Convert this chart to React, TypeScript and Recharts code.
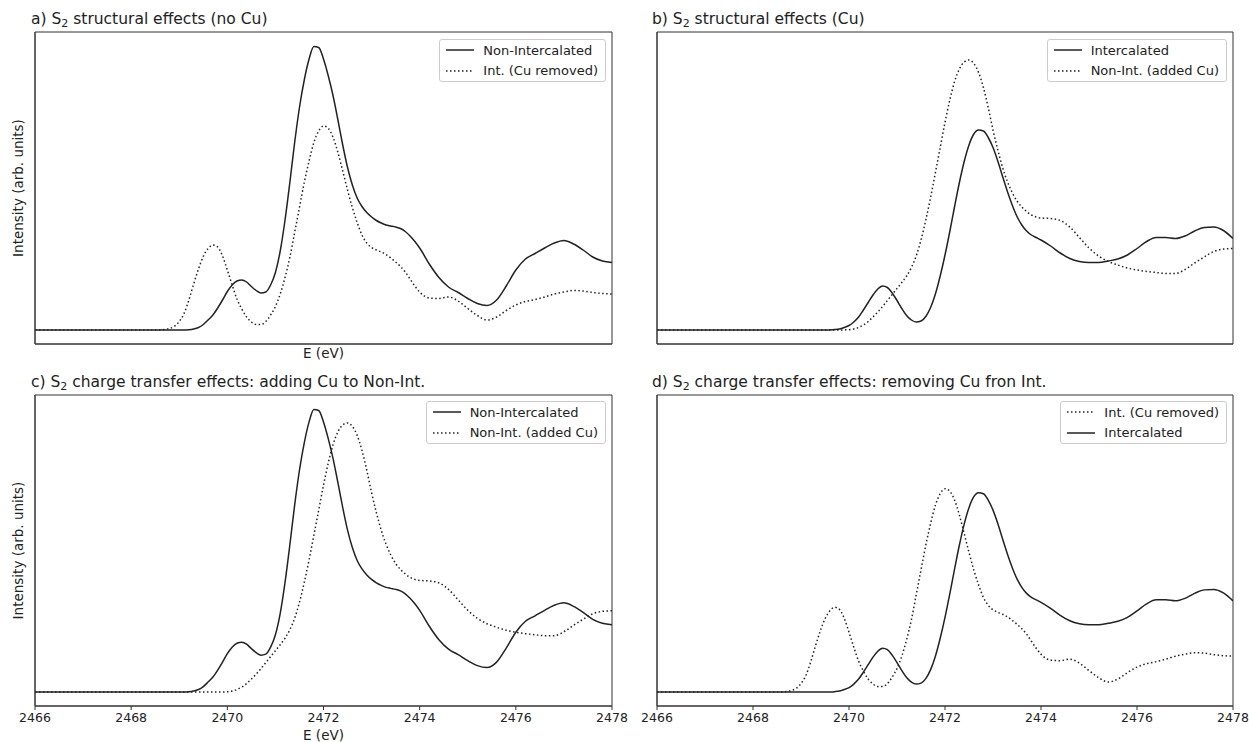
import React from 'react';
import { LineChart, Line, XAxis, YAxis, Legend, ReferenceArea } from 'recharts';

// Photon energy grid (eV); finer steps across the edge region
const energy = [
  2466, 2467, 2468, 2468.4, 2468.6, 2468.8, 2469.0,
  2469.1, 2469.2, 2469.3, 2469.4, 2469.5, 2469.6, 2469.7, 2469.8, 2469.9, 2470.0,
  2470.1, 2470.2, 2470.3, 2470.4, 2470.5, 2470.6, 2470.7, 2470.8, 2470.9, 2471.0,
  2471.1, 2471.2, 2471.3, 2471.4, 2471.5, 2471.6, 2471.7, 2471.8, 2471.9, 2472.0,
  2472.1, 2472.2, 2472.3, 2472.4, 2472.5, 2472.6, 2472.7, 2472.8, 2472.9, 2473.0,
  2473.1, 2473.2, 2473.3, 2473.4, 2473.5, 2473.6, 2473.7, 2473.8, 2473.9, 2474.0,
  2474.2, 2474.4, 2474.6, 2474.8, 2475.0, 2475.2, 2475.4, 2475.6, 2475.8, 2476.0,
  2476.2, 2476.4, 2476.6, 2476.8, 2477.0, 2477.2, 2477.4, 2477.6, 2477.8, 2478.0,
];

// Non-Intercalated S2 spectrum
const nonIntercalated = [
  0, 0, 0, 0, 0, 0, 0,
  0, 0.005, 0.02, 0.05, 0.11, 0.2, 0.3, 0.44, 0.6, 0.77,
  0.9, 0.98, 1.0, 0.96, 0.87, 0.79, 0.74, 0.76, 0.9, 1.15,
  1.58, 2.2, 2.95, 3.75, 4.45, 5.0, 5.42, 5.67, 5.65, 5.42,
  5.08, 4.68, 4.2, 3.7, 3.25, 2.9, 2.64, 2.47, 2.35, 2.26,
  2.19, 2.14, 2.1, 2.08, 2.06, 2.03, 1.97, 1.88, 1.77, 1.64,
  1.32, 1.05, 0.86, 0.75, 0.63, 0.53, 0.49, 0.6, 0.88, 1.2,
  1.42, 1.53, 1.64, 1.74, 1.79, 1.72, 1.6, 1.46, 1.38, 1.35,
];

// Intercalated with Cu removed
const intCuRemoved = [
  0, 0, 0, 0, 0.003, 0.03, 0.17,
  0.33, 0.6, 0.92, 1.22, 1.47, 1.63, 1.7, 1.66, 1.48, 1.2,
  0.9, 0.62, 0.42, 0.26, 0.16, 0.11, 0.11, 0.17, 0.3, 0.47,
  0.72, 1.05, 1.45, 1.95, 2.45, 2.95, 3.38, 3.75, 3.98, 4.08,
  4.03, 3.85, 3.55, 3.18, 2.8, 2.45, 2.15, 1.9, 1.74, 1.65,
  1.6, 1.56, 1.51, 1.44, 1.36, 1.27, 1.16, 1.02, 0.88, 0.76,
  0.64, 0.63, 0.66, 0.58, 0.43, 0.29, 0.2, 0.26, 0.39, 0.5,
  0.57, 0.61, 0.66, 0.72, 0.76, 0.79, 0.78, 0.75, 0.73, 0.72,
];

// Intercalated S2 spectrum
const intercalated = [
  0, 0, 0, 0, 0, 0, 0,
  0, 0, 0, 0, 0, 0.002, 0.008, 0.02, 0.05, 0.09,
  0.16, 0.26, 0.4, 0.55, 0.7, 0.82, 0.88, 0.85, 0.74, 0.59,
  0.43, 0.29, 0.2, 0.16, 0.18, 0.27, 0.45, 0.72, 1.08, 1.5,
  1.97, 2.47, 2.95, 3.37, 3.7, 3.92, 4.0, 3.98, 3.85, 3.65,
  3.38, 3.07, 2.77, 2.5, 2.27, 2.1, 1.98, 1.9, 1.85, 1.8,
  1.68, 1.54, 1.43, 1.37, 1.35, 1.35, 1.38, 1.42, 1.5, 1.63,
  1.77, 1.85, 1.85, 1.83, 1.88, 1.98, 2.05, 2.06, 1.99, 1.83,
];

// Non-Intercalated with Cu added
const nonIntAddedCu = [
  0, 0, 0, 0, 0, 0, 0,
  0, 0, 0, 0, 0, 0, 0, 0, 0.002, 0.006,
  0.02, 0.05, 0.1, 0.17, 0.26, 0.36, 0.47, 0.59, 0.71, 0.83,
  0.95, 1.08, 1.25, 1.48, 1.8, 2.2, 2.65, 3.15, 3.65, 4.15,
  4.6, 4.97, 5.22, 5.36, 5.4, 5.33, 5.15, 4.85, 4.45, 4.0,
  3.6, 3.25, 2.97, 2.75, 2.58, 2.46, 2.37, 2.3, 2.26, 2.24,
  2.23, 2.19, 2.06, 1.85, 1.64, 1.48, 1.37, 1.3, 1.24, 1.2,
  1.17, 1.15, 1.13, 1.13, 1.21, 1.34, 1.46, 1.57, 1.62, 1.63,
];

const xTicks = [2466, 2468, 2470, 2472, 2474, 2476, 2478];
const yTicks = [0, 1, 2, 3, 4, 5];

const X_MIN = 2466;
const X_MAX = 2478;
const Y_MIN = -0.28;
const Y_MAX = 5.96;

const rows = energy.map((e, i) => ({
  e,
  ni: nonIntercalated[i],
  ir: intCuRemoved[i],
  ic: intercalated[i],
  na: nonIntAddedCu[i],
}));

const FONT = '"DejaVu Sans", sans-serif';
const INK = '#222';
const SPINE = '#333';
const DOT = '1.5 2.5';

type Series = { key: string; name: string; dotted: boolean };

const S: Record<string, Series> = {
  ni: { key: 'ni', name: 'Non-Intercalated', dotted: false },
  ir: { key: 'ir', name: 'Int. (Cu removed)', dotted: true },
  ic: { key: 'ic', name: 'Intercalated', dotted: false },
  na: { key: 'na', name: 'Non-Int. (added Cu)', dotted: true },
};

type Panel = {
  id: string;
  letter: string;
  titleRest: string;
  left: number;
  top: number;
  width: number;
  height: number;
  marginTop: number;
  marginRight: number;
  yAxisWidth: number;
  xAxisHeight: number;
  yLabel: boolean;
  xLabelY: number | null;
  tickLabels: boolean;
  titleLeft: number;
  legendRight: number;
  legendTop: number;
  series: Series[];
};

const panels: Panel[] = [
  {
    id: 'a', letter: 'a) S', titleRest: ' structural effects (no Cu)',
    left: 0, top: 0, width: 640, height: 371, marginTop: 32, marginRight: 28,
    yAxisWidth: 35, xAxisHeight: 27, yLabel: true, xLabelY: 9, tickLabels: false,
    titleLeft: 31, legendRight: 34, legendTop: 39, series: [S.ni, S.ir],
  },
  {
    id: 'b', letter: 'b) S', titleRest: ' structural effects (Cu)',
    left: 624, top: 0, width: 625, height: 371, marginTop: 32, marginRight: 16,
    yAxisWidth: 33, xAxisHeight: 27, yLabel: false, xLabelY: null, tickLabels: false,
    titleLeft: 28, legendRight: 22, legendTop: 39, series: [S.ic, S.na],
  },
  {
    id: 'c', letter: 'c) S', titleRest: ' charge transfer effects: adding Cu to Non-Int.',
    left: 0, top: 371, width: 640, height: 371, marginTop: 24, marginRight: 28,
    yAxisWidth: 35, xAxisHeight: 36, yLabel: true, xLabelY: 29, tickLabels: true,
    titleLeft: 31, legendRight: 34, legendTop: 30, series: [S.ni, S.na],
  },
  {
    id: 'd', letter: 'd) S', titleRest: ' charge transfer effects: removing Cu fron Int.',
    left: 624, top: 371, width: 625, height: 371, marginTop: 24, marginRight: 16,
    yAxisWidth: 33, xAxisHeight: 36, yLabel: false, xLabelY: null, tickLabels: true,
    titleLeft: 28, legendRight: 22, legendTop: 30, series: [S.ir, S.ic],
  },
];

const LegendBox = ({ items }: { items: Series[] }) => (
  <div
    style={{
      border: '1px solid #cccccc',
      borderRadius: 3,
      background: 'rgba(255,255,255,0.8)',
      padding: '0 7px 0 6px',
      fontFamily: FONT,
      fontSize: 13,
      color: INK,
    }}
  >
    {items.map((s) => (
      <div key={s.key} style={{ display: 'flex', alignItems: 'center', height: 20.5, whiteSpace: 'nowrap' }}>
        <svg width={28} height={4} style={{ marginRight: 9, display: 'block' }}>
          <line x1={0} y1={2} x2={28} y2={2} stroke={INK} strokeWidth={1.5} strokeDasharray={s.dotted ? DOT : undefined} />
        </svg>
        <span>{s.name}</span>
      </div>
    ))}
  </div>
);

const yTitle = (props: any) => {
  const vb = props.viewBox || {};
  const cx = (vb.x || 0) + 18;
  const cy = (vb.y || 0) + (vb.height || 0) / 2;
  return (
    <text
      x={cx}
      y={cy}
      transform={`rotate(-90 ${cx} ${cy})`}
      textAnchor="middle"
      dominantBaseline="central"
      fontFamily={FONT}
      fontSize={13.5}
      fill={INK}
    >
      Intensity (arb. units)
    </text>
  );
};

const xTitle = (dy: number) => (props: any) => {
  const vb = props.viewBox || {};
  return (
    <text
      x={(vb.x || 0) + (vb.width || 0) / 2}
      y={(vb.y || 0) + dy}
      textAnchor="middle"
      dominantBaseline="central"
      fontFamily={FONT}
      fontSize={13.5}
      fill={INK}
    >
      E (eV)
    </text>
  );
};

const PanelChart = ({ p }: { p: Panel }) => (
  <div style={{ position: 'absolute', left: p.left, top: p.top, width: p.width, height: p.height }}>
    <LineChart
      width={p.width}
      height={p.height}
      data={rows}
      margin={{ top: p.marginTop, right: p.marginRight, bottom: 0, left: 0 }}
    >
      <XAxis
        dataKey="e"
        type="number"
        domain={[X_MIN, X_MAX]}
        allowDataOverflow
        ticks={xTicks}
        interval={0}
        height={p.xAxisHeight}
        tickSize={4}
        tickMargin={3}
        stroke={SPINE}
        tickLine={{ stroke: SPINE }}
        axisLine={{ stroke: SPINE }}
        tick={p.tickLabels ? { fontSize: 12.5, fill: INK, fontFamily: FONT } : false}
        label={p.xLabelY !== null ? xTitle(p.xLabelY) : undefined}
      />
      <YAxis
        type="number"
        domain={[Y_MIN, Y_MAX]}
        allowDataOverflow
        ticks={yTicks}
        interval={0}
        width={p.yAxisWidth}
        tickSize={4}
        tick={false}
        stroke={SPINE}
        tickLine={{ stroke: SPINE }}
        axisLine={{ stroke: SPINE }}
        label={p.yLabel ? yTitle : undefined}
      />
      {/* frame around the plotting area (top and right spines) */}
      <ReferenceArea
        x1={X_MIN}
        x2={X_MAX}
        y1={Y_MIN}
        y2={Y_MAX}
        fill="none"
        fillOpacity={0}
        stroke={SPINE}
        strokeWidth={1}
        ifOverflow="visible"
      />
      {p.series.map((s) => (
        <Line
          key={s.key}
          dataKey={s.key}
          name={s.name}
          type="monotone"
          stroke={INK}
          strokeWidth={1.5}
          strokeDasharray={s.dotted ? DOT : undefined}
          dot={false}
          activeDot={false}
          isAnimationActive={false}
        />
      ))}
      <Legend
        layout="vertical"
        align="center"
        verticalAlign="middle"
        content={() => <LegendBox items={p.series} />}
        wrapperStyle={{
          left: 'auto',
          right: p.legendRight,
          top: p.legendTop,
          bottom: 'auto',
          width: 'auto',
          height: 'auto',
        }}
      />
    </LineChart>
    <div
      style={{
        position: 'absolute',
        left: p.titleLeft,
        top: p.marginTop - 22,
        fontFamily: FONT,
        fontSize: 15.5,
        lineHeight: '18px',
        color: INK,
        whiteSpace: 'nowrap',
      }}
    >
      {p.letter}
      <span style={{ fontSize: 11, position: 'relative', top: 3 }}>2</span>
      {p.titleRest}
    </div>
  </div>
);

export default function App() {
  return (
    <div style={{ position: 'absolute', left: 0, top: 0, width: 1249, height: 742, background: '#fff', overflow: 'hidden' }}>
      {panels.map((p) => (
        <PanelChart key={p.id} p={p} />
      ))}
    </div>
  );
}
